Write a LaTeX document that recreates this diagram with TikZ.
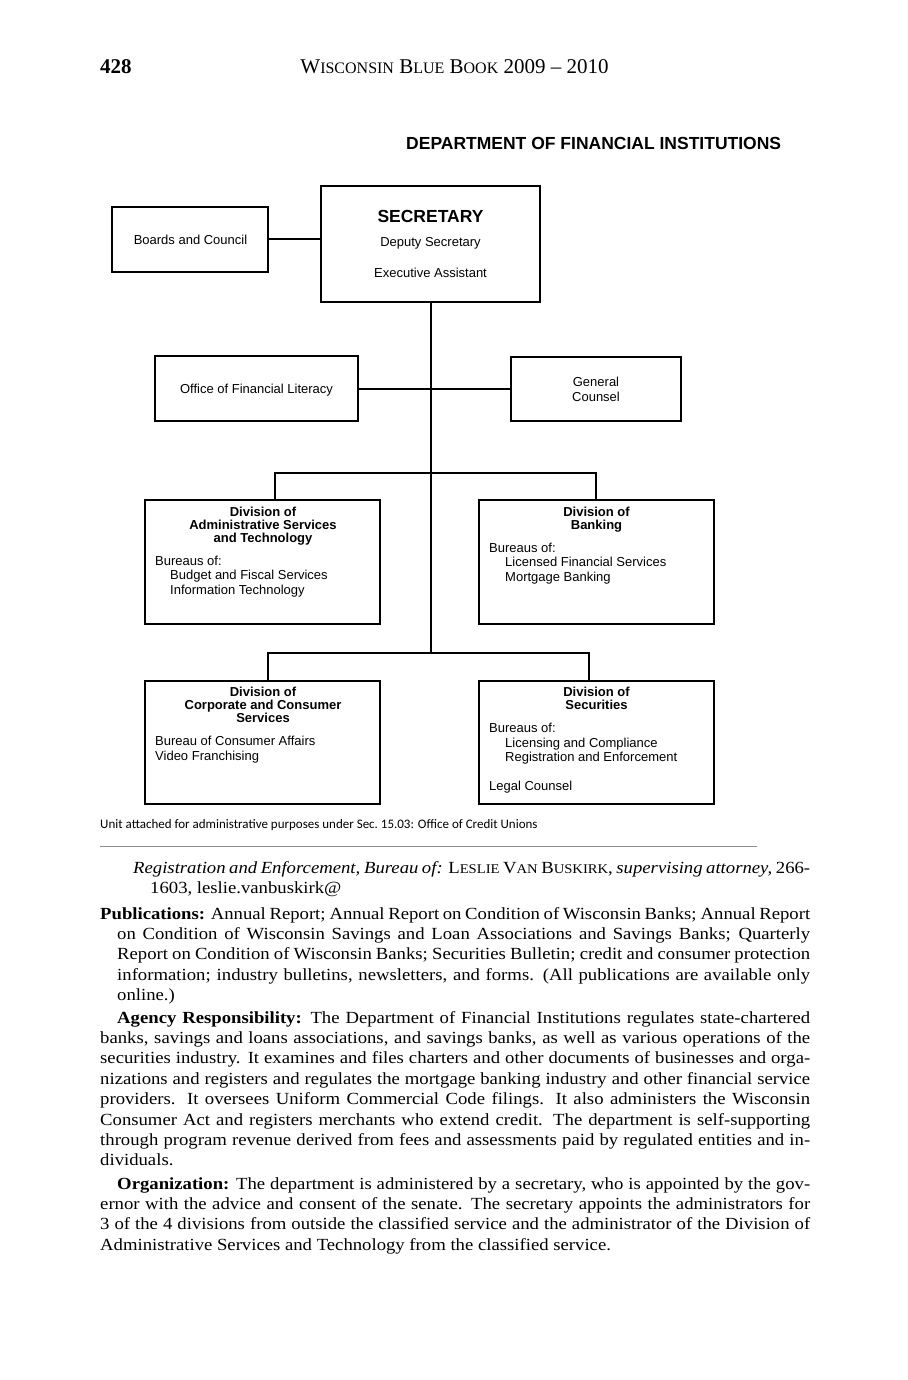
\documentclass[tikz,border=0pt]{standalone}
\usepackage{fontspec}
\setmainfont{Liberation Serif}
\newfontfamily\bodyfont[FakeStretch=1.1]{Liberation Serif}
\newfontfamily\chartfont{Liberation Sans}
\newfontfamily\notefont{Carlito}
\newcommand\hdsc[1]{{\fontsize{16}{18}\selectfont #1}}
\newcommand\bdsc[1]{{\fontsize{13.3}{16}\selectfont #1}}
\newcommand\jl[2]{\makebox[#1pt][s]{#2}}
\begin{document}
\begin{tikzpicture}[x=1pt,y=-1pt,
  box/.style={draw, line width=2pt, inner sep=0pt},
  conn/.style={line width=2pt},
  ct/.style={inner sep=0pt, font=\chartfont\fontsize{13}{15}\selectfont},
  ctb/.style={inner sep=0pt, anchor=base, font=\chartfont\bfseries\fontsize{13}{15}\selectfont},
  bl/.style={anchor=base west, inner sep=0pt, font=\bodyfont\fontsize{17}{20}\selectfont}]
\useasboundingbox[fill=white] (0,0) rectangle (907,1380);

% header
\node[anchor=base west, inner sep=0pt, font=\bfseries\fontsize{21}{24}\selectfont] (pg) at (100,74) {428};
\node[anchor=base, inner sep=0pt, font=\fontsize{21}{24}\selectfont] (hd) at (454.5,74) {W\hdsc{ISCONSIN} B\hdsc{LUE} B\hdsc{OOK} 2009 -- 2010};
\node[anchor=base west, inner sep=0pt, font=\chartfont\bfseries\fontsize{17.5}{20}\selectfont] (dfi) at (406,150) {DEPARTMENT OF FINANCIAL INSTITUTIONS};

% boxes
\node[box, minimum width=156pt, minimum height=65pt] (bc) at (190,239.5) {};
\node[box, minimum width=219pt, minimum height=116pt] (sec) at (430.5,244) {};
\node[box, minimum width=203pt, minimum height=65pt] (ofl) at (256.5,388.5) {};
\node[box, minimum width=170pt, minimum height=64pt] (gc) at (596,388.5) {};
\node[box, minimum width=235pt, minimum height=124pt] (adm) at (262.5,562) {};
\node[box, minimum width=235pt, minimum height=124pt] (bank) at (596.5,562) {};
\node[box, minimum width=235pt, minimum height=123pt] (corp) at (262.5,742.5) {};
\node[box, minimum width=235pt, minimum height=123pt] (secu) at (596.5,742.5) {};

% connectors
\coordinate (t3) at (430,653);
\coordinate (b1l) at (275,473);
\coordinate (b1r) at (596,473);
\coordinate (b2l) at (268,653);
\coordinate (b2r) at (589,653);
\draw[conn] (bc.east) -- (bc.east -| sec.west);
\draw[conn] (sec.south) -- (sec.south |- t3);
\draw[conn] (ofl.east) -- (gc.west);
\draw[conn] (b1l |- adm.north) -- (b1l) -- (b1r) -- (b1r |- bank.north);
\draw[conn] (b2l |- corp.north) -- (b2l) -- (b2r) -- (b2r |- secu.north);

% box texts
\node[ct, anchor=base] (bct) at (190.5,244.5) {Boards and Council};
\node[inner sep=0pt, anchor=base, font=\chartfont\bfseries\fontsize{17.5}{20}\selectfont] (sect1) at (430.5,223) {SECRETARY};
\node[ct, anchor=base] (sect2) at (430.5,246.5) {Deputy Secretary};
\node[ct, anchor=base] (sect3) at (430.5,277.5) {Executive Assistant};
\node[ct, anchor=base] (oflt) at (256.5,393.5) {Office of Financial Literacy};
\node[ct, anchor=base] (gct1) at (596,386.5) {General};
\node[ct, anchor=base] (gct2) at (596,401.5) {Counsel};

\node[ctb] (admt1) at (263,516.5) {Division of};
\node[ctb] (admt2) at (263,529.5) {Administrative Services};
\node[ctb] (admt3) at (263,542.5) {and Technology};
\node[ct, anchor=base west] (admt4) at (155,565.5) {Bureaus of:};
\node[ct, anchor=base west] (admt5) at (170,579.5) {Budget and Fiscal Services};
\node[ct, anchor=base west] (admt6) at (170,594.5) {Information Technology};

\node[ctb] (bankt1) at (596.5,516.5) {Division of};
\node[ctb] (bankt2) at (596.5,529.5) {Banking};
\node[ct, anchor=base west] (bankt3) at (489,552.5) {Bureaus of:};
\node[ct, anchor=base west] (bankt4) at (505,566.5) {Licensed Financial Services};
\node[ct, anchor=base west] (bankt5) at (505,581.5) {Mortgage Banking};

\node[ctb] (corpt1) at (263,696.5) {Division of};
\node[ctb] (corpt2) at (263,709.5) {Corporate and Consumer};
\node[ctb] (corpt3) at (263,722.5) {Services};
\node[ct, anchor=base west] (corpt4) at (155,745.5) {Bureau of Consumer Affairs};
\node[ct, anchor=base west] (corpt5) at (155,760.5) {Video Franchising};

\node[ctb] (secut1) at (596.5,696.5) {Division of};
\node[ctb] (secut2) at (596.5,709.5) {Securities};
\node[ct, anchor=base west] (secut3) at (489,732.5) {Bureaus of:};
\node[ct, anchor=base west] (secut4) at (505,747.5) {Licensing and Compliance};
\node[ct, anchor=base west] (secut5) at (505,761.5) {Registration and Enforcement};
\node[ct, anchor=base west] (secut6) at (489,790.5) {Legal Counsel};

\node[anchor=base west, inner sep=0pt, font=\notefont\fontsize{13}{15}\selectfont] (unit) at (100,828) {Unit attached for administrative purposes under Sec.\ 15.03: Office of Credit Unions};

\draw[black!45, line width=1pt] (100,846) -- (757,846);

% body text
\node[bl] (r1) at (133,873) {\jl{677}{\textit{Registration and Enforcement, Bureau of:} L\bdsc{ESLIE} V\bdsc{AN} B\bdsc{USKIRK}, \textit{supervising attorney,} 266-}};
\node[bl] (r2) at (150,893) {1603, leslie.vanbuskirk@};

\node[bl] (p1) at (100,919) {\jl{710}{\textbf{Publications:} Annual Report; Annual Report on Condition of Wisconsin Banks; Annual Report}};
\node[bl] (p2) at (117,939.4) {\jl{693}{on Condition of Wisconsin Savings and Loan Associations and Savings Banks; Quarterly}};
\node[bl] (p3) at (117,959.8) {\jl{693}{Report on Condition of Wisconsin Banks; Securities Bulletin; credit and consumer protection}};
\node[bl] (p4) at (117,980.2) {\jl{693}{information; industry bulletins, newsletters, and forms.  (All publications are available only}};
\node[bl] (p5) at (117,1000.6) {online.)};

\node[bl] (a1) at (117,1023) {\jl{693}{\textbf{Agency Responsibility:} The Department of Financial Institutions regulates state-chartered}};
\node[bl] (a2) at (100,1043.4) {\jl{710}{banks, savings and loans associations, and savings banks, as well as various operations of the}};
\node[bl] (a3) at (100,1063.8) {\jl{710}{securities industry.  It examines and files charters and other documents of businesses and orga-}};
\node[bl] (a4) at (100,1084.2) {\jl{710}{nizations and registers and regulates the mortgage banking industry and other financial service}};
\node[bl] (a5) at (100,1104.6) {\jl{710}{providers.  It oversees Uniform Commercial Code filings.  It also administers the Wisconsin}};
\node[bl] (a6) at (100,1125) {\jl{710}{Consumer Act and registers merchants who extend credit.  The department is self-supporting}};
\node[bl] (a7) at (100,1145.4) {\jl{710}{through program revenue derived from fees and assessments paid by regulated entities and in-}};
\node[bl] (a8) at (100,1165.8) {dividuals.};

\node[bl] (o1) at (117,1189) {\jl{693}{\textbf{Organization:} The department is administered by a secretary, who is appointed by the gov-}};
\node[bl] (o2) at (100,1209.4) {\jl{710}{ernor with the advice and consent of the senate.  The secretary appoints the administrators for}};
\node[bl] (o3) at (100,1229.8) {\jl{710}{3 of the 4 divisions from outside the classified service and the administrator of the Division of}};
\node[bl] (o4) at (100,1250.2) {Administrative Services and Technology from the classified service.};
\end{tikzpicture}
\end{document}
